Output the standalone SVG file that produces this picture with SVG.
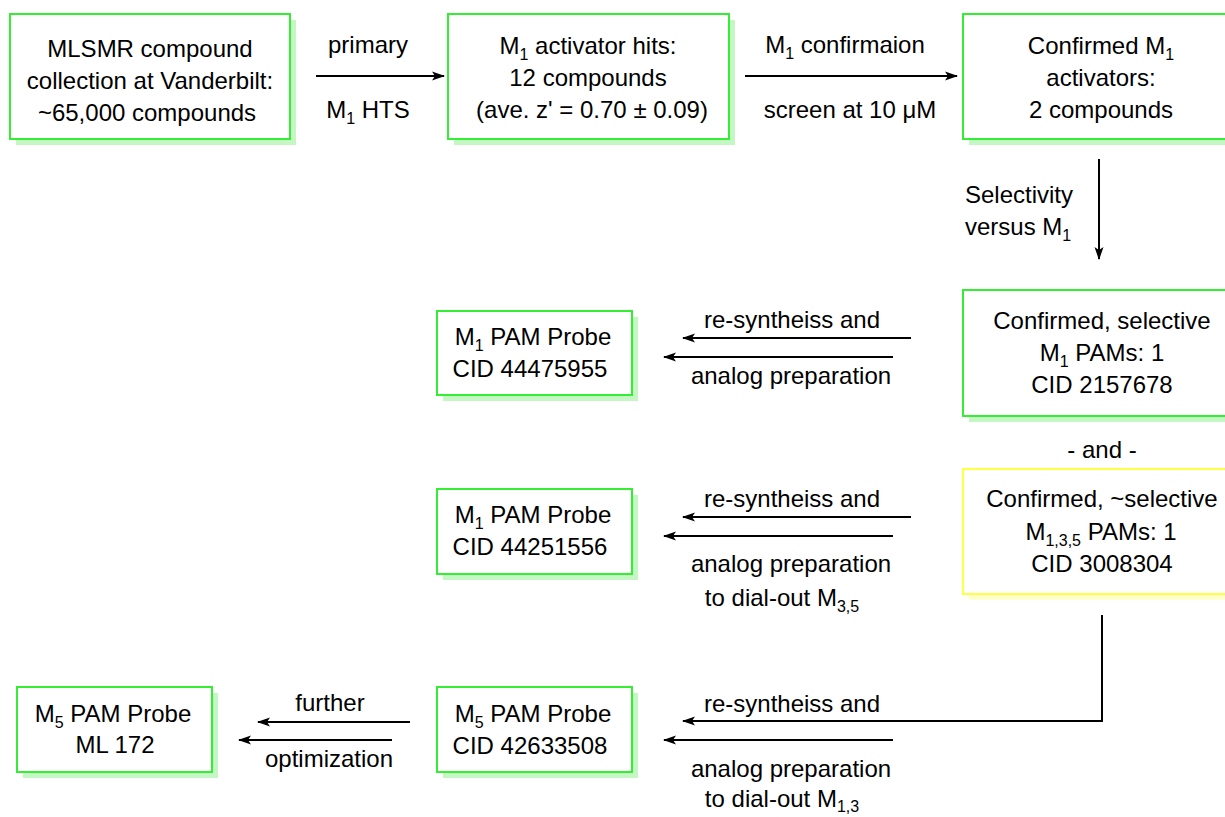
<svg xmlns="http://www.w3.org/2000/svg" width="1225" height="817" viewBox="0 0 1225 817">
<defs>
<style>
text{font-family:"Liberation Sans",Arial,sans-serif;font-size:24px;fill:#000}
.c{text-anchor:middle}
.box{fill:#fff;stroke:#33ee33;stroke-width:2}
.sh{fill:#c4f7c4}
.ybox{fill:#fff;stroke:#ffff44;stroke-width:2}
.ysh{fill:#ffffcc}
.ln{stroke:#000;stroke-width:2;fill:none}
.sub{font-size:16px}
</style>
<marker id="ah" markerUnits="userSpaceOnUse" markerWidth="14" markerHeight="10" refX="12" refY="5" orient="auto">
<path d="M0,0.5 L13,5 L0,9.5 L3,5 z" fill="#000"/>
</marker>
</defs>
<rect width="1225" height="817" fill="#fff"/>

<g id="connectors">
<line class="ln" x1="316" y1="76" x2="444" y2="76" marker-end="url(#ah)"/>
<line class="ln" x1="745" y1="76" x2="957" y2="76" marker-end="url(#ah)"/>
<line class="ln" x1="1099" y1="159" x2="1099" y2="259" marker-end="url(#ah)"/>
<line class="ln" x1="911" y1="338" x2="683" y2="338" marker-end="url(#ah)"/>
<line class="ln" x1="893" y1="357" x2="664" y2="357" marker-end="url(#ah)"/>
<line class="ln" x1="911" y1="517" x2="683" y2="517" marker-end="url(#ah)"/>
<line class="ln" x1="893" y1="536" x2="664" y2="536" marker-end="url(#ah)"/>
<polyline class="ln" points="1102,615 1102,721 911,721 683,721" marker-end="url(#ah)"/>
<line class="ln" x1="893" y1="740" x2="664" y2="740" marker-end="url(#ah)"/>
<line class="ln" x1="410" y1="722" x2="258" y2="722" marker-end="url(#ah)"/>
<line class="ln" x1="392" y1="740" x2="239" y2="740" marker-end="url(#ah)"/>
<text class="c" x="368" y="53">primary</text>
<text class="c" x="368" y="118">M<tspan class="sub" dy="6">1</tspan><tspan dy="-6"> HTS</tspan></text>
<text class="c" x="845" y="53">M<tspan class="sub" dy="6">1</tspan><tspan dy="-6"> confirmaion</tspan></text>
<text class="c" x="850" y="118">screen at 10 μM</text>
<text x="965" y="203">Selectivity</text>
<text x="965" y="235">versus M<tspan class="sub" dy="6">1</tspan></text>
<text class="c" x="792" y="328">re-syntheiss and</text>
<text class="c" x="791" y="384">analog preparation</text>
<text class="c" x="792" y="507">re-syntheiss and</text>
<text class="c" x="791" y="572">analog preparation</text>
<text class="c" x="782" y="606">to dial-out M<tspan class="sub" dy="6">3,5</tspan></text>
<text class="c" x="792" y="712">re-syntheiss and</text>
<text class="c" x="791" y="777">analog preparation</text>
<text class="c" x="782" y="807">to dial-out M<tspan class="sub" dy="5">1,3</tspan></text>
<text class="c" x="330" y="711">further</text>
<text class="c" x="329" y="767">optimization</text>
<text class="c" x="1102" y="458">- and -</text>
</g>

<g id="n-mlsmr">
<rect class="sh" x="16" y="20" width="280" height="125"/>
<rect class="box" x="10" y="14" width="280" height="125"/>
<text class="c" x="150" y="57">MLSMR compound</text>
<text class="c" x="150" y="89">collection at Vanderbilt:</text>
<text class="c" x="147" y="121">~65,000 compounds</text>
</g>

<g id="n-hits">
<rect class="sh" x="454" y="20" width="281" height="125"/>
<rect class="box" x="448" y="14" width="281" height="125"/>
<text class="c" x="588" y="54">M<tspan class="sub" dy="6">1</tspan><tspan dy="-6"> activator hits:</tspan></text>
<text class="c" x="588" y="86">12 compounds</text>
<text class="c" x="592" y="118">(ave. z' = 0.70 ± 0.09)</text>
</g>

<g id="n-confirmed">
<rect class="sh" x="969" y="20" width="280" height="125"/>
<rect class="box" x="963" y="14" width="280" height="125"/>
<text class="c" x="1101" y="54">Confirmed M<tspan class="sub" dy="6">1</tspan></text>
<text class="c" x="1101" y="86">activators:</text>
<text class="c" x="1101" y="118">2 compounds</text>
</g>

<g id="n-selective">
<rect class="sh" x="969" y="296" width="280" height="126"/>
<rect class="box" x="963" y="290" width="280" height="126"/>
<text class="c" x="1102" y="329">Confirmed, selective</text>
<text class="c" x="1102" y="361">M<tspan class="sub" dy="6">1</tspan><tspan dy="-6"> PAMs: 1</tspan></text>
<text class="c" x="1102" y="393">CID 2157678</text>
</g>

<g id="n-approx">
<rect class="ysh" x="969" y="475" width="280" height="125"/>
<rect class="ybox" x="963" y="469" width="280" height="125"/>
<text class="c" x="1102" y="507">Confirmed, ~selective</text>
<text class="c" x="1101" y="540">M<tspan class="sub" dy="6">1,3,5</tspan><tspan dy="-6"> PAMs: 1</tspan></text>
<text class="c" x="1102" y="572">CID 3008304</text>
</g>

<g id="n-probe1">
<rect class="sh" x="443" y="317" width="195" height="84"/>
<rect class="box" x="437" y="311" width="195" height="84"/>
<text class="c" x="533" y="345">M<tspan class="sub" dy="6">1</tspan><tspan dy="-6"> PAM Probe</tspan></text>
<text class="c" x="530" y="377">CID 44475955</text>
</g>

<g id="n-probe2">
<rect class="sh" x="443" y="495" width="195" height="85"/>
<rect class="box" x="437" y="489" width="195" height="85"/>
<text class="c" x="533" y="523">M<tspan class="sub" dy="6">1</tspan><tspan dy="-6"> PAM Probe</tspan></text>
<text class="c" x="530" y="555">CID 44251556</text>
</g>

<g id="n-probe3">
<rect class="sh" x="443" y="693" width="195" height="85"/>
<rect class="box" x="437" y="687" width="195" height="85"/>
<text class="c" x="533" y="722">M<tspan class="sub" dy="6">5</tspan><tspan dy="-6"> PAM Probe</tspan></text>
<text class="c" x="530" y="754">CID 42633508</text>
</g>

<g id="n-ml172">
<rect class="sh" x="23" y="693" width="195" height="85"/>
<rect class="box" x="17" y="687" width="195" height="85"/>
<text class="c" x="113" y="722">M<tspan class="sub" dy="6">5</tspan><tspan dy="-6"> PAM Probe</tspan></text>
<text class="c" x="115" y="753">ML 172</text>
</g>
</svg>
